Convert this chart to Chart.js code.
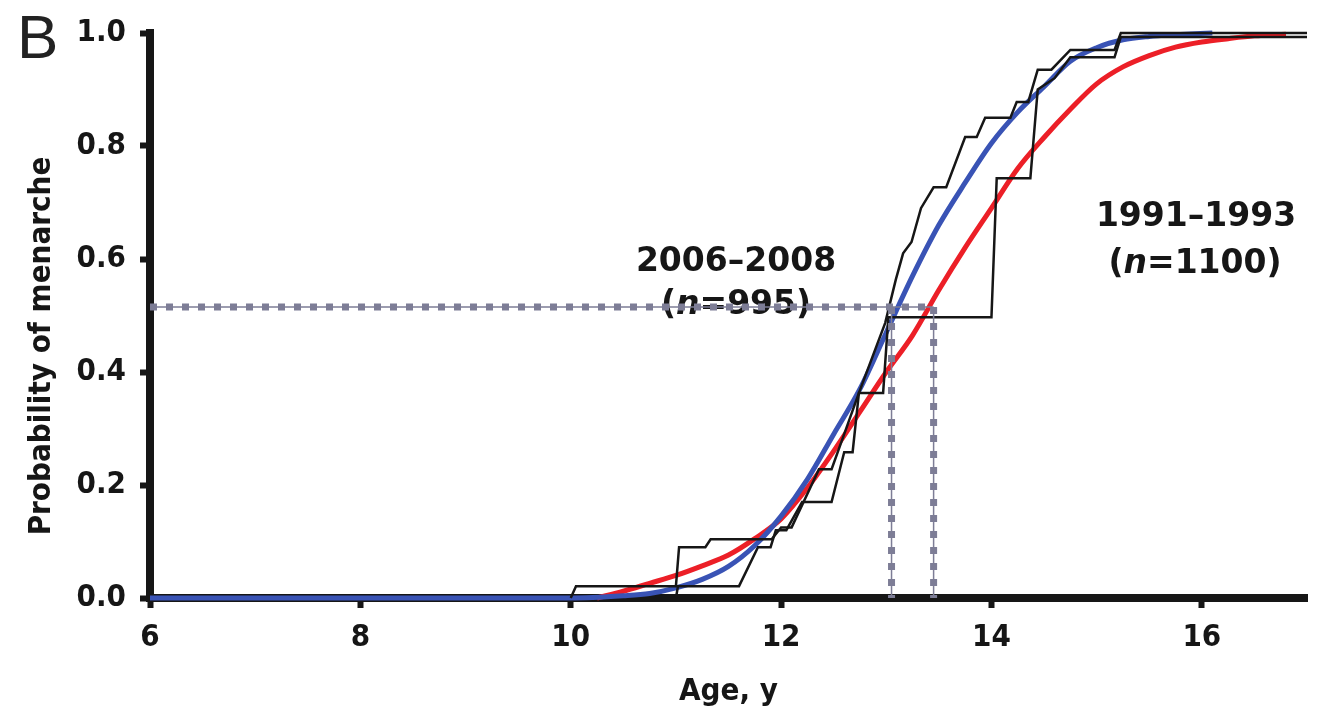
<!DOCTYPE html>
<html><head><meta charset="utf-8">
<script src="https://cdn.jsdelivr.net/npm/chart.js@4.4.1/dist/chart.umd.min.js"></script>
<style>html,body{margin:0;padding:0;background:#fff;}</style>
</head><body>
<canvas id="c" width="1318" height="716"></canvas>
<script>
// ---- data ----
const xTicks = [6, 8, 10, 12, 14, 16];
const yTicks = [0, 0.2, 0.4, 0.6, 0.8, 1.0];

// fitted curve, 2006–2008 (blue)
const blueAges = [6, 10, 10.5, 10.75, 11, 11.25, 11.5, 11.75, 12, 12.25, 12.5, 12.75, 13, 13.25, 13.5, 13.75, 14, 14.25, 14.5, 14.75, 15, 15.25, 15.5, 15.75, 16.1];
const blueProb = [0, 0, 0.004, 0.008, 0.018, 0.033, 0.056, 0.093, 0.145, 0.21, 0.29, 0.37, 0.47, 0.57, 0.66, 0.735, 0.805, 0.86, 0.905, 0.95, 0.974, 0.988, 0.994, 0.997, 1.0];

// fitted curve, 1991–1993 (red)
const redAges = [10.25, 10.5, 10.75, 11, 11.25, 11.5, 11.75, 12, 12.25, 12.5, 12.75, 13, 13.25, 13.5, 13.75, 14, 14.25, 14.5, 14.75, 15, 15.25, 15.5, 15.75, 16, 16.25, 16.5, 16.8];
const redProb = [0, 0.012, 0.026, 0.04, 0.057, 0.076, 0.105, 0.14, 0.195, 0.26, 0.33, 0.40, 0.465, 0.545, 0.62, 0.69, 0.76, 0.815, 0.865, 0.91, 0.94, 0.96, 0.975, 0.984, 0.99, 0.995, 0.998];

// observed (step) data, 2006–2008
const step2006Ages = [10.0, 10.05, 11.0, 11.03, 11.28, 11.33, 11.91, 12.0, 12.1, 12.36, 12.48, 12.6, 12.74, 12.99, 13.09, 13.16, 13.24, 13.33, 13.45, 13.57, 13.75, 13.86, 13.94, 14.18, 14.24, 14.35, 14.44, 14.57, 14.75, 15.17, 15.23, 17];
const step2006Prob = [0, 0.021, 0.021, 0.09, 0.09, 0.104, 0.104, 0.125, 0.125, 0.228, 0.228, 0.29, 0.363, 0.487, 0.563, 0.61, 0.63, 0.69, 0.727, 0.727, 0.816, 0.816, 0.85, 0.85, 0.878, 0.878, 0.935, 0.935, 0.97, 0.97, 1.0, 1.0];

// observed (step) data, 1991–1993
const step1991Ages = [11.0, 11.02, 11.6, 11.78, 11.9, 11.95, 12.05, 12.2, 12.48, 12.6, 12.68, 12.74, 12.97, 13.02, 14.0, 14.05, 14.37, 14.44, 14.6, 14.75, 15.17, 15.23, 17];
const step1991Prob = [0, 0.021, 0.021, 0.09, 0.09, 0.12, 0.12, 0.17, 0.17, 0.258, 0.258, 0.363, 0.363, 0.497, 0.497, 0.743, 0.743, 0.90, 0.92, 0.957, 0.957, 0.993, 0.993];

// median ages (dotted guides)
const medianAges = [13.05, 13.45];
const medianProb = 0.515;

// text
const panelLabel = 'B';
const xTitle = 'Age, y';
const yTitle = 'Probability of menarche';
const label2006 = ['2006–2008', '995'];
const label1991 = ['1991–1993', '1100'];

// ---- fonts ----
function hasFont(name) {
  const c = document.createElement('canvas').getContext('2d');
  const s = 'mmmmmmmmmmlli0123456789';
  c.font = '40px monospace'; const w0 = c.measureText(s).width;
  c.font = `40px "${name}", monospace`; const w1 = c.measureText(s).width;
  return Math.abs(w0 - w1) > 0.5;
}
const COND = hasFont('DejaVu Sans Condensed');
const FONT = 'DejaVu Sans';
const TFONT = COND ? 'DejaVu Sans Condensed' : 'DejaVu Sans';
const TICK_SIZE = COND ? 31 : 27;
const TITLE_SIZE = COND ? 31 : 28;

// ---- build ----
const pts = (xs, ys) => xs.map((x, i) => ({x, y: ys[i]}));
const BLUE = '#3953b5', RED = '#ec1f27', BLACK = '#161616', GUIDE = '#7d7d96';

const guideLines = [
  pts([6, medianAges[1]], [medianProb, medianProb]),
  pts([medianAges[0], medianAges[0]], [medianProb, 0]),
  pts([medianAges[1], medianAges[1]], [medianProb, 0])
];
const datasets = [];
guideLines.forEach(d => {
  datasets.push({data: d, borderColor: GUIDE, borderWidth: 7, borderDash: [7, 9], pointRadius: 0, tension: 0, clip: false, borderCapStyle: 'butt'});
  datasets.push({data: d, borderColor: GUIDE, borderWidth: 1.5, pointRadius: 0, tension: 0, clip: false});
});
datasets.push({data: pts(step2006Ages, step2006Prob), borderColor: BLACK, borderWidth: 2.5, pointRadius: 0, tension: 0, clip: false});
datasets.push({data: pts(step1991Ages, step1991Prob), borderColor: BLACK, borderWidth: 2.5, pointRadius: 0, tension: 0, clip: false});
datasets.push({data: pts(blueAges, blueProb), borderColor: BLUE, borderWidth: 5, pointRadius: 0, cubicInterpolationMode: 'monotone', clip: false});
datasets.push({data: pts(redAges, redProb), borderColor: RED, borderWidth: 5, pointRadius: 0, cubicInterpolationMode: 'monotone', clip: false});

function drawNLabel(ctx, cx, baseline, num, size, fam) {
  const normal = `bold ${size}px "${fam}"`, ital = `italic bold ${size}px "${fam}"`;
  const parts = [['(', normal], ['n', ital], ['=' + num + ')', normal]];
  let w = 0;
  parts.forEach(p => { ctx.font = p[1]; w += ctx.measureText(p[0]).width; });
  let x = cx - w / 2;
  ctx.textAlign = 'left';
  parts.forEach(p => { ctx.font = p[1]; ctx.fillText(p[0], x, baseline); x += ctx.measureText(p[0]).width; });
}

const textPlugin = {
  id: 'texts',
  beforeDatasetsDraw(chart) {
    const ctx = chart.ctx;
    ctx.save();
    ctx.fillStyle = BLACK;
    ctx.textBaseline = 'alphabetic';
    ctx.textAlign = 'center';
    ctx.font = `bold 33px "${FONT}"`;
    ctx.fillText(label2006[0], 736, 271);
    drawNLabel(ctx, 736, 314, label2006[1], 33, FONT);
    ctx.textAlign = 'center';
    ctx.font = `bold 33px "${FONT}"`;
    ctx.fillText(label1991[0], 1196, 226);
    drawNLabel(ctx, 1195, 273, label1991[1], 33, FONT);
    ctx.restore();
  },
  afterDraw(chart) {
    const ctx = chart.ctx;
    ctx.save();
    ctx.fillStyle = '#222';
    ctx.textBaseline = 'alphabetic';
    ctx.textAlign = 'left';
    ctx.font = '62px "Liberation Sans"';
    ctx.fillText(panelLabel, 17, 58);
    ctx.translate(42, 346);
    ctx.rotate(-Math.PI / 2);
    ctx.textAlign = 'center';
    ctx.textBaseline = 'middle';
    ctx.fillStyle = BLACK;
    ctx.font = `bold ${TITLE_SIZE}px "${TFONT}"`;
    ctx.fillText(yTitle, 0, 0);
    ctx.restore();
  }
};

const tickFont = {family: TFONT, weight: 'bold', size: TICK_SIZE};
new Chart(document.getElementById('c'), {
  type: 'line',
  data: {datasets},
  options: {
    responsive: false,
    animation: false,
    layout: {padding: {left: 0, right: 11, top: 33, bottom: 0}},
    plugins: {legend: {display: false}, tooltip: {enabled: false}},
    scales: {
      x: {
        type: 'linear', min: 6, max: 17, z: 1,
        afterBuildTicks: s => { s.ticks = xTicks.map(v => ({value: v})); },
        afterFit: s => { s.height = 118; },
        ticks: {font: tickFont, color: BLACK, padding: 11, maxRotation: 0, autoSkip: false, callback: v => String(v)},
        grid: {drawOnChartArea: false, drawTicks: true, tickLength: 10, tickWidth: 6, tickColor: BLACK},
        border: {display: true, width: 8, color: BLACK},
        title: {display: true, text: xTitle, color: BLACK, font: {family: TFONT, weight: 'bold', size: TITLE_SIZE}, padding: {top: 0, bottom: 5}}
      },
      y: {
        type: 'linear', min: 0, max: 1, z: 1,
        afterBuildTicks: s => { s.ticks = yTicks.map(v => ({value: v})); },
        afterFit: s => { s.width = 150; },
        ticks: {font: tickFont, color: BLACK, padding: 14, autoSkip: false, callback: v => Number(v).toFixed(1)},
        grid: {drawOnChartArea: false, drawTicks: true, tickLength: 10, tickWidth: 6, tickColor: BLACK},
        border: {display: true, width: 8, color: BLACK}
      }
    }
  },
  plugins: [textPlugin]
});
</script>
</body></html>
